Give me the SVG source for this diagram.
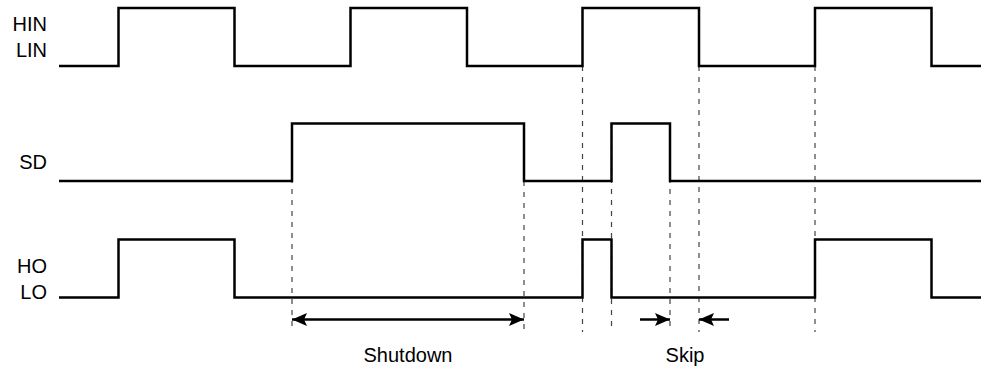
<svg xmlns="http://www.w3.org/2000/svg" width="982" height="370" viewBox="0 0 982 370">
<defs>
<style>
.sig{fill:none;stroke:#000;stroke-width:2.5;stroke-linejoin:miter}
.dash{stroke:#444;stroke-width:1.2;stroke-dasharray:5,6}
.arr{stroke:#000;stroke-width:2.5;fill:none}
.lbl{font-family:"Liberation Sans",Arial,sans-serif;font-size:20px;fill:#000;text-anchor:end}
.cap{font-family:"Liberation Sans",Arial,sans-serif;font-size:20px;fill:#000;text-anchor:middle}
</style>
<marker id="ah" viewBox="0 0 15 13" refX="15" refY="6.5" markerWidth="15" markerHeight="13" markerUnits="userSpaceOnUse" orient="auto-start-reverse">
<path d="M0,0 L15,6.5 L0,13 L3,6.5 Z" fill="#000"/>
</marker>
</defs>
<g id="labels">
<text class="lbl" x="47" y="31">HIN</text>
<text class="lbl" x="47" y="57">LIN</text>
<text class="lbl" x="47" y="169">SD</text>
<text class="lbl" x="47" y="273">HO</text>
<text class="lbl" x="47" y="299">LO</text>
</g>
<g id="connectors">
<line class="dash" x1="292" y1="123" x2="292" y2="332"/>
<line class="dash" x1="524" y1="181" x2="524" y2="332"/>
<line class="dash" x1="582.5" y1="66" x2="582.5" y2="332"/>
<line class="dash" x1="611.5" y1="123" x2="611.5" y2="332"/>
<line class="dash" x1="670" y1="123" x2="670" y2="332"/>
<line class="dash" x1="699" y1="66" x2="699" y2="332"/>
<line class="dash" x1="815" y1="66" x2="815" y2="332"/>
<line class="arr" x1="292" y1="319.5" x2="524" y2="319.5" marker-start="url(#ah)" marker-end="url(#ah)"/>
<line class="arr" x1="640" y1="319.5" x2="670" y2="319.5" marker-end="url(#ah)"/>
<line class="arr" x1="729" y1="319.5" x2="699" y2="319.5" marker-end="url(#ah)"/>
</g>
<g id="hin-lin">
<path class="sig" d="M59,66 H118.5 V8 H234.5 V66 H350.5 V8 H467 V66 H582.5 V8 H699 V66 H815 V8 H931.5 V66 H981"/>
</g>
<g id="sd">
<path class="sig" d="M59,181 H292 V123.5 H524 V181 H611.5 V123.5 H670 V181 H981"/>
</g>
<g id="ho-lo">
<path class="sig" d="M59,297.5 H118.5 V239.5 H234.5 V297.5 H582.5 V239.5 H611.5 V297.5 H815 V239.5 H931.5 V297.5 H981"/>
</g>
<g id="captions">
<text class="cap" x="408" y="362">Shutdown</text>
<text class="cap" x="685" y="362">Skip</text>
</g>
</svg>
